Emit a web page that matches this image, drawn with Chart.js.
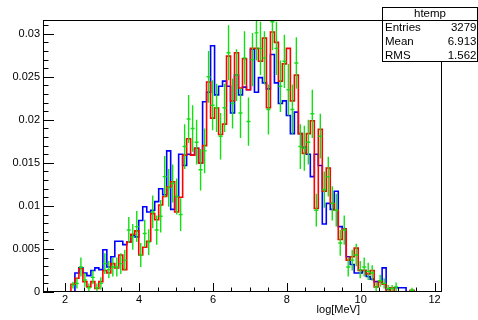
<!DOCTYPE html>
<html>
<head>
<meta charset="UTF-8">
<title>htemp</title>
<script src="https://cdn.jsdelivr.net/npm/chart.js"></script>
<style>
  body { margin: 0; background: #fff; }
  #wrap { width: 478px; height: 320px; }
</style>
</head>
<body>
<div id="wrap"><canvas id="c" width="478" height="320"></canvas></div>
<script>
// histogram binning (100 bins on [1.4, 12.2])
const binLow = 1.4;
const binWidth = 0.108;

// bin contents (bin 0 .. 99)
const blueVals = [
  0, 0, 0, 0, 0, 0, 0, 0, 0.0022, 0.0028,
  0.0022, 0.0019, 0.0025, 0.0028, 0.0026, 0.0049, 0.0029, 0.0041, 0.0059, 0.0059,
  0.0055, 0.0058, 0.0066, 0.0064, 0.0083, 0.0099, 0.0093, 0.0095, 0.0105, 0.0120,
  0.0113, 0.0164, 0.0096, 0.0111, 0.0160, 0.0147, 0.0160, 0.0159, 0.0167, 0.0150,
  0.0221, 0.0232, 0.0286, 0.0229, 0.0239, 0.0245, 0.0239, 0.0208, 0.0252, 0.0229,
  0.0238, 0.0235, 0.0282, 0.0232, 0.0249, 0.0243, 0.0236, 0.0276, 0.0243, 0.0219,
  0.0222, 0.0205, 0.0184, 0.0209, 0.0184, 0.0168, 0.0160, 0.0134, 0.0160, 0.0147,
  0.0079, 0.0103, 0.0096, 0.0117, 0.0076, 0.0073, 0.0041, 0.0032, 0.0022, 0.0022,
  0.0025, 0.0018, 0.0015, 0.0012, 0.0012, 0.0028, 0.0003, 0.0005, 0.0005, 0.0005,
  0.0005, 0, 0, 0, 0, 0, 0, 0, 0, 0
];
const redVals = [
  0, 0, 0, 0, 0, 0, 0, 0.0009, 0.0016, 0.0027,
  0.0012, 0.0006, 0.0012, 0.0004, 0.0012, 0.0025, 0.0022, 0.0033, 0.0028, 0.0043,
  0.0026, 0.0058, 0.0067, 0.0071, 0.0043, 0.0052, 0.0059, 0.0091, 0.0084, 0.0101,
  0.0111, 0.0122, 0.0128, 0.0093, 0.0110, 0.0159, 0.0178, 0.0159, 0.0167, 0.0150,
  0.0170, 0.0244, 0.0202, 0.0214, 0.0183, 0.0195, 0.0274, 0.0222, 0.0278, 0.0237,
  0.0271, 0.0235, 0.0283, 0.0283, 0.0268, 0.0295, 0.0214, 0.0302, 0.0290, 0.0245,
  0.0265, 0.0283, 0.0222, 0.0252, 0.0184, 0.0161, 0.0184, 0.0199, 0.0097, 0.0189,
  0.0117, 0.0144, 0.0103, 0.0095, 0.0061, 0.0073, 0.0037, 0.0041, 0.0051, 0.0025,
  0.0025, 0.0021, 0.0025, 0.0006, 0.0012, 0.0009, 0, 0.0005, 0, 0,
  0, 0, 0.0002, 0, 0, 0, 0, 0, 0, 0
];
const greenVals = [
  0, 0, 0, 0, 0, 0, 0, 0.0008, 0.0010, 0.0029,
  0.0014, 0.0005, 0.0017, 0.0005, 0.0010, 0.0033, 0.0026, 0.0029, 0.0029, 0.0033,
  0.0037, 0.0072, 0.0064, 0.0076, 0.0043, 0.0068, 0.0058, 0.0093, 0.0072, 0.0088,
  0.0134, 0.0121, 0.0126, 0.0111, 0.0090, 0.0169, 0.0201, 0.0190, 0.0174, 0.0142,
  0.0164, 0.0250, 0.0217, 0.0214, 0.0181, 0.0214, 0.0278, 0.0219, 0.0252, 0.0208,
  0.0272, 0.0198, 0.0270, 0.0301, 0.0283, 0.0272, 0.0212, 0.0314, 0.0283, 0.0239,
  0.0268, 0.0235, 0.0212, 0.0266, 0.0169, 0.0167, 0.0174, 0.0207, 0.0095, 0.0181,
  0.0119, 0.0134, 0.0103, 0.0095, 0.0057, 0.0072, 0.0029, 0.0037, 0.0043, 0.0026,
  0.0029, 0.0024, 0.0022, 0.0006, 0.0013, 0.0010, 0.0004, 0.0004, 0.0006, 0,
  0, 0, 0.0002, 0, 0, 0, 0, 0, 0, 0
];
const greenErrs = [
  0, 0, 0, 0, 0, 0, 0, 0.0004, 0.0006, 0.0011,
  0.0008, 0.0005, 0.0008, 0.0005, 0.0007, 0.0012, 0.0010, 0.0011, 0.0011, 0.0012,
  0.0012, 0.0015, 0.0015, 0.0018, 0.0014, 0.0016, 0.0015, 0.0019, 0.0017, 0.0019,
  0.0024, 0.0022, 0.0022, 0.0021, 0.0019, 0.0026, 0.0028, 0.0027, 0.0026, 0.0024,
  0.0026, 0.0030, 0.0029, 0.0028, 0.0027, 0.0028, 0.0032, 0.0029, 0.0030, 0.0029,
  0.0031, 0.0028, 0.0031, 0.0032, 0.0031, 0.0031, 0.0029, 0.0033, 0.0031, 0.0030,
  0.0031, 0.0030, 0.0029, 0.0030, 0.0026, 0.0026, 0.0026, 0.0028, 0.0019, 0.0026,
  0.0021, 0.0023, 0.0020, 0.0019, 0.0015, 0.0017, 0.0011, 0.0012, 0.0013, 0.0010,
  0.0011, 0.0010, 0.0009, 0.0005, 0.0007, 0.0006, 0.0004, 0.0004, 0.0005, 0,
  0, 0, 0.0003, 0, 0, 0, 0, 0, 0, 0
];

const xTicks = [2, 4, 6, 8, 10, 12];
const yTicks = [0, 0.005, 0.01, 0.015, 0.02, 0.025, 0.03];
const yTickLabels = ['0', '0.005', '0.01', '0.015', '0.02', '0.025', '0.03'];
const statsTitle = 'htemp';
const statsNames = ['Entries', 'Mean', 'RMS'];
const statsValues = ['3279', '6.913', '1.562'];
const xTitle = 'log[MeV]';

const FONT = '"Liberation Sans", Arial, Helvetica, sans-serif';

function stepPoints(vals) {
  const pts = vals.map((v, k) => ({ x: binLow + k * binWidth, y: v }));
  pts.push({ x: binLow + vals.length * binWidth, y: vals[vals.length - 1] });
  return pts;
}

// frame, ROOT style ticks, error bars, stats box
const rootDeco = {
  id: 'rootDeco',
  afterDatasetsDraw(chart) {
    const ctx = chart.ctx;
    const xs = chart.scales.x, ys = chart.scales.y;
    const a = chart.chartArea;
    ctx.save();

    // green points with error bars
    ctx.strokeStyle = '#12e012';
    ctx.lineWidth = 1.4;
    greenVals.forEach((v, k) => {
      if (v <= 0) return;
      const xc = xs.getPixelForValue(binLow + (k + 0.5) * binWidth);
      const xl = xs.getPixelForValue(binLow + k * binWidth);
      const xr = xs.getPixelForValue(binLow + (k + 1) * binWidth);
      const yc = ys.getPixelForValue(v);
      const e = greenErrs[k];
      ctx.beginPath();
      ctx.moveTo(xl, yc); ctx.lineTo(xr, yc);
      ctx.moveTo(xc, Math.max(a.top, ys.getPixelForValue(v + e)));
      ctx.lineTo(xc, Math.min(a.bottom, ys.getPixelForValue(Math.max(0, v - e))));
      ctx.stroke();
    });

    // frame
    ctx.strokeStyle = '#000';
    ctx.lineWidth = 1;
    ctx.strokeRect(Math.round(a.left) + 0.5, Math.round(a.top) + 0.5,
      Math.round(a.right - a.left) - 1, Math.round(a.bottom - a.top) - 1);

    // y ticks
    ctx.beginPath();
    for (let i = 0; i <= 31; i++) {
      const v = i * 0.001;
      const y = Math.round(ys.getPixelForValue(v)) + 0.5;
      const len = (i % 5 === 0) ? 11 : 5.5;
      ctx.moveTo(a.left, y); ctx.lineTo(a.left + len, y);
    }
    // x ticks
    for (let v = 1.5; v <= 12.2; v += 0.5) {
      const x = Math.round(xs.getPixelForValue(v)) + 0.5;
      const major = Math.abs(v / 2 - Math.round(v / 2)) < 1e-6;
      const len = major ? 9 : 4.5;
      ctx.moveTo(x, a.bottom); ctx.lineTo(x, a.bottom - len);
    }
    ctx.stroke();

    // axis title
    ctx.fillStyle = '#000';
    ctx.font = '11px ' + FONT;
    ctx.textAlign = 'right';
    ctx.textBaseline = 'middle';
    ctx.fillText(xTitle, 360, 310);

    // stats box
    const bx = 382, by = 7, bw = 96, bh = 55;
    ctx.fillStyle = '#fff';
    ctx.fillRect(bx, by, bw, bh);
    ctx.strokeStyle = '#000';
    ctx.strokeRect(bx + 0.5, by + 0.5, bw - 1, bh - 1);
    ctx.beginPath();
    ctx.moveTo(bx, 20.5); ctx.lineTo(bx + bw, 20.5);
    ctx.stroke();
    ctx.fillStyle = '#000';
    ctx.font = '11.5px ' + FONT;
    ctx.textAlign = 'center';
    ctx.fillText(statsTitle, 430, 14);
    statsNames.forEach((n, i) => {
      const y = 28 + i * 14;
      ctx.textAlign = 'left';
      ctx.fillText(n, 385, y);
      ctx.textAlign = 'right';
      ctx.fillText(statsValues[i], 476.5, y);
    });
    ctx.restore();
  }
};

new Chart(document.getElementById('c'), {
  type: 'line',
  data: {
    datasets: [
      {
        label: 'red',
        data: stepPoints(redVals),
        stepped: 'before',
        borderColor: '#ff0000',
        borderWidth: 1.6,
        pointRadius: 0,
        fill: false
      },
      {
        label: 'blue',
        data: stepPoints(blueVals),
        stepped: 'before',
        borderColor: '#0000ff',
        borderWidth: 1.6,
        pointRadius: 0,
        fill: false
      }
    ]
  },
  options: {
    responsive: false,
    animation: false,
    layout: { padding: { left: 0, right: 36, top: 20, bottom: 0 } },
    plugins: { legend: { display: false }, tooltip: { enabled: false } },
    scales: {
      x: {
        type: 'linear',
        min: binLow,
        max: binLow + 100 * binWidth,
        grid: { display: false, drawTicks: false },
        border: { display: false },
        afterBuildTicks: (s) => { s.ticks = xTicks.map(v => ({ value: v })); },
        afterFit: (s) => { s.height = 28; },
        ticks: {
          maxRotation: 0,
          autoSkip: false,
          padding: 1,
          color: '#000',
          font: { family: FONT, size: 11 },
          callback: (v) => String(v)
        }
      },
      y: {
        type: 'linear',
        min: 0,
        max: 0.0316,
        grid: { display: false, drawTicks: false },
        border: { display: false },
        afterBuildTicks: (s) => { s.ticks = yTicks.map(v => ({ value: v })); },
        afterFit: (s) => { s.width = 43; },
        ticks: {
          autoSkip: false,
          padding: 3,
          color: '#000',
          font: { family: FONT, size: 11 },
          callback: (v, i) => yTickLabels[i]
        }
      }
    }
  },
  plugins: [rootDeco]
});
</script>
</body>
</html>
